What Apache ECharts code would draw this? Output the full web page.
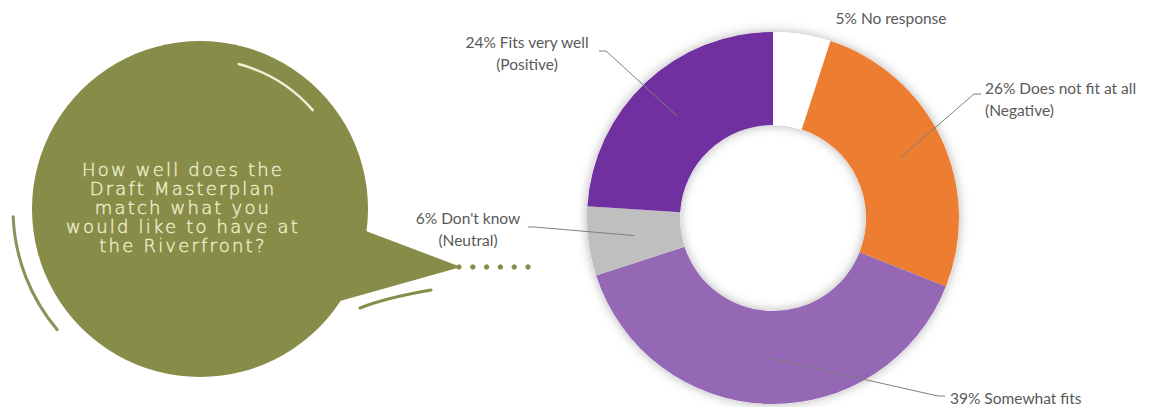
<!DOCTYPE html>
<html><head><meta charset="utf-8">
<style>
html,body{margin:0;padding:0;background:#fff}
#c{width:1154px;height:407px}
#c svg text[style*="DejaVu"]{letter-spacing:2.2px}
</style>
<script src="https://cdn.jsdelivr.net/npm/echarts@6/dist/echarts.min.js"></script>
</head><body><div id="c"></div>
<script>
// ---- data ----
const categories = ['No response', 'Does not fit at all', 'Somewhat fits', "Don't know", 'Fits very well'];
const notes = ['', '(Negative)', '', '(Neutral)', '(Positive)'];
const values = [5, 26, 39, 6, 24];
const colors = ['#FFFFFF', '#ED7D31', '#9568B6', '#BFBFBF', '#7030A0'];
const questionLines = ['How well does the', 'Draft Masterplan', 'match what you', 'would like to have at', 'the Riverfront?'];

// ---- layout (not data) ----
const pieCenter = [773, 218];
const pieRadius = [93, 186];
const lineStartRadius = 140;
const labelSpots = [
  {x: 891, y: 18, align: 'center'},
  {x: 985, y: 99, align: 'left', bend: [974, 94], end: [981, 94]},
  {x: 950, y: 398, align: 'left', bend: [938, 396], end: [945, 396]},
  {x: 468, y: 228.5, align: 'center', bend: [534, 227], end: [528, 227]},
  {x: 527, y: 53, align: 'center', bend: [606, 51], end: [599, 51]}
];
const bubble = {cx: 200, cy: 209, r: 168, color: '#878D48'};

const chart = echarts.init(document.getElementById('c'), null, {renderer: 'svg'});

const dots = [];
for (let i = 0; i < 6; i++) {
  dots.push({type: 'circle', z: 5, shape: {cx: 459 + i * 13.8, cy: 267, r: 2.7}, style: {fill: bubble.color}});
}

const pieData = (transparent) => categories.map((c, i) => ({
  name: c,
  value: values[i],
  itemStyle: {color: transparent ? 'rgba(0,0,0,0)' : colors[i]},
  labelLine: {show: !!labelSpots[i].bend}
}));

const option = {
  animation: false,
  backgroundColor: '#ffffff',
  graphic: [
    {type: 'ring', z: -10, silent: true,
     shape: {cx: pieCenter[0], cy: pieCenter[1], r: pieRadius[1], r0: pieRadius[0]},
     style: {fill: '#ffffff', shadowBlur: 11, shadowColor: 'rgba(0,0,0,0.3)'}},
    {type: 'circle', z: 1, shape: {cx: bubble.cx, cy: bubble.cy, r: bubble.r}, style: {fill: bubble.color}},
    {type: 'polygon', z: 1, shape: {points: [[358, 228], [461, 267], [340, 301]]}, style: {fill: bubble.color}},
    {type: 'arc', z: 2, shape: {cx: bubble.cx, cy: bubble.cy, r: 150, startAngle: -1.31, endAngle: -0.72},
     style: {stroke: '#F1F0D6', lineWidth: 2.5, fill: null, lineCap: 'round'}},
    {type: 'arc', z: 2, shape: {cx: bubble.cx, cy: bubble.cy, r: 187, startAngle: 2.44, endAngle: 3.1},
     style: {stroke: '#8C9058', lineWidth: 3, fill: null, lineCap: 'round'}},
    {type: 'bezierCurve', z: 2, shape: {x1: 360, y1: 308, cpx1: 385, cpy1: 298, x2: 431, y2: 290},
     style: {stroke: bubble.color, lineWidth: 3, fill: null, lineCap: 'round'}},
    ...dots,
    {type: 'text', z: 3, x: 183, y: 207.5,
     style: {text: questionLines.join('\n'), fill: '#EEEDCC', font: '200 18px "DejaVu Sans"',
             stroke: '#EEEDCC', lineWidth: 0.4,
             lineHeight: 18.8, align: 'center', verticalAlign: 'middle'}}
  ],
  series: [{
    // coloured slices
    type: 'pie',
    z: 2,
    center: pieCenter,
    radius: pieRadius,
    startAngle: 90,
    clockwise: true,
    silent: true,
    itemStyle: {borderWidth: 0},
    label: {show: false},
    labelLine: {show: false},
    data: pieData(false)
  }, {
    // labels and leader lines drawn above all slices
    type: 'pie',
    z: 4,
    center: pieCenter,
    radius: pieRadius,
    startAngle: 90,
    clockwise: true,
    avoidLabelOverlap: false,
    silent: true,
    itemStyle: {borderWidth: 0},
    label: {
      show: true,
      position: 'outside',
      color: '#595959',
      fontFamily: 'Lato',
      fontSize: 15.5,
      lineHeight: 22,
      formatter: p => p.value + '% ' + p.name + (notes[p.dataIndex] ? '\n' + notes[p.dataIndex] : '')
    },
    labelLine: {show: true, showAbove: true, length: 10, length2: 10, lineStyle: {color: '#7F7F7F', width: 1}},
    labelLayout: function (p) {
      const s = labelSpots[p.dataIndex];
      const res = {x: s.x, y: s.y, align: s.align, verticalAlign: 'middle'};
      const pts = p.labelLinePoints;
      if (s.bend && pts) {
        const dx = pts[0][0] - pieCenter[0], dy = pts[0][1] - pieCenter[1];
        const d = Math.sqrt(dx * dx + dy * dy);
        const k = lineStartRadius / d;
        res.labelLinePoints = [[pieCenter[0] + dx * k, pieCenter[1] + dy * k], s.bend, s.end];
      }
      return res;
    },
    data: pieData(true)
  }]
};
chart.setOption(option);
</script></body></html>
